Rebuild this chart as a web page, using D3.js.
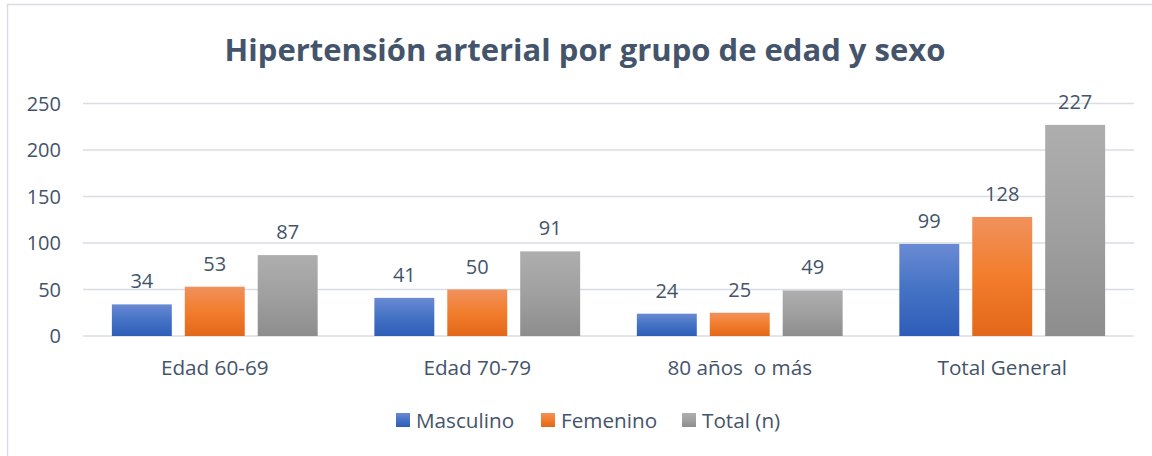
<!DOCTYPE html>
<html>
<head>
<meta charset="utf-8">
<script src="https://cdn.jsdelivr.net/npm/d3@7"></script>
<style>
  body { margin: 0; background: #fff; }
  text { font-family: "Open Sans", sans-serif; fill: #44546a; }
</style>
</head>
<body>
<div id="cont"></div>
<script>
// data
var categories = ["Edad 60-69", "Edad 70-79", "80 años  o más", "Total General"];
var seriesNames = ["Masculino", "Femenino", "Total (n)"];
var masculino = [34, 41, 24, 99];
var femenino = [53, 50, 25, 128];
var total = [87, 91, 49, 227];
var yTicks = [0, 50, 100, 150, 200, 250];

var seriesValues = [masculino, femenino, total];
var gradients = [
  ["#6a8ad3", "#4472c4", "#2e5db9"],
  ["#f0915c", "#f27d2c", "#e3671a"],
  ["#aeaeae", "#a0a0a0", "#8d8d8d"]
];

var W = 1152, H = 456;
var margin = {top: 103.5, right: 18, bottom: 120, left: 83},
    width = W - margin.left - margin.right,
    height = H - margin.top - margin.bottom;

var svg = d3.select("#cont").append("svg")
    .attr("width", W)
    .attr("height", H);

// outer border
svg.append("rect")
    .attr("x", 7.5).attr("y", 4.5)
    .attr("width", W + 10).attr("height", H + 10)
    .style("fill", "none")
    .style("stroke", "#d9dde3")
    .style("stroke-width", 1.5);

// gradients
var defs = svg.append("defs");
gradients.forEach(function(g, i) {
  var lg = defs.append("linearGradient")
      .attr("id", "grad" + i)
      .attr("x1", 0).attr("y1", 0).attr("x2", 0).attr("y2", 1);
  lg.selectAll("stop")
    .data(g)
    .enter().append("stop")
      .attr("offset", function(d, j) { return (j * 50) + "%"; })
      .attr("stop-color", function(d) { return d; });
});

// title
svg.append("text")
    .attr("x", 585)
    .attr("y", 61)
    .attr("text-anchor", "middle")
    .style("font-size", "31px")
    .style("font-weight", "bold")
    .text("Hipertensión arterial por grupo de edad y sexo");

var g = svg.append("g")
    .attr("transform", "translate(" + margin.left + "," + margin.top + ")");

var x0 = d3.scaleBand().domain(categories).range([0, width]).paddingInner(0.216).paddingOuter(0.11);
var x1 = d3.scaleBand().domain(d3.range(3)).range([0, x0.bandwidth()]).paddingInner(0.178);
var y = d3.scaleLinear().domain([0, 250]).range([height, 0]);

// gridlines
g.selectAll("line.grid")
  .data(yTicks)
  .enter().append("line")
    .attr("class", "grid")
    .attr("x1", 0).attr("x2", width)
    .attr("y1", function(d) { return y(d); })
    .attr("y2", function(d) { return y(d); })
    .style("stroke", "#d9dde3")
    .style("stroke-width", 1.5);

// y tick labels
g.selectAll("text.ytick")
  .data(yTicks)
  .enter().append("text")
    .attr("class", "ytick")
    .attr("x", -22)
    .attr("y", function(d) { return y(d); })
    .attr("dy", "0.35em")
    .attr("text-anchor", "end")
    .style("font-size", "20px")
    .text(function(d) { return d; });

// category labels
g.selectAll("text.xcat")
  .data(categories)
  .enter().append("text")
    .attr("class", "xcat")
    .attr("x", function(d) { return x0(d) + x0.bandwidth() / 2; })
    .attr("y", height + 39)
    .attr("text-anchor", "middle")
    .style("font-size", "20.7px")
    .style("white-space", "pre")
    .text(function(d) { return d; });

// bars
var groups = g.selectAll("g.cat")
  .data(categories)
  .enter().append("g")
    .attr("class", "cat")
    .attr("transform", function(d) { return "translate(" + x0(d) + ",0)"; });

groups.selectAll("rect")
  .data(function(d, ci) { return seriesValues.map(function(s, si) { return {s: si, v: s[ci]}; }); })
  .enter().append("rect")
    .attr("x", function(d) { return x1(d.s); })
    .attr("y", function(d) { return y(d.v); })
    .attr("width", x1.bandwidth())
    .attr("height", function(d) { return height - y(d.v); })
    .style("fill", function(d) { return "url(#grad" + d.s + ")"; });

groups.selectAll("text.val")
  .data(function(d, ci) { return seriesValues.map(function(s, si) { return {s: si, v: s[ci]}; }); })
  .enter().append("text")
    .attr("class", "val")
    .attr("x", function(d) { return x1(d.s) + x1.bandwidth() / 2; })
    .attr("y", function(d) { return y(d.v) - 16; })
    .attr("text-anchor", "middle")
    .style("font-size", "20px")
    .text(function(d) { return d.v; });

// legend
var legendX = [396, 541, 682];
var legend = svg.selectAll("g.leg")
  .data(seriesNames)
  .enter().append("g")
    .attr("class", "leg")
    .attr("transform", function(d, i) { return "translate(" + legendX[i] + ",413)"; });

legend.append("rect")
    .attr("width", 14).attr("height", 14)
    .style("fill", function(d, i) { return "url(#grad" + i + ")"; });

legend.append("text")
    .attr("x", 20)
    .attr("y", 14.5)
    .style("font-size", "20.7px")
    .text(function(d) { return d; });
</script>
</body>
</html>
